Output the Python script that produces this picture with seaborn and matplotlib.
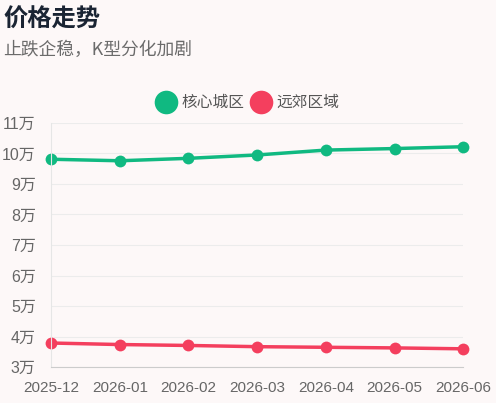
import matplotlib.pyplot as plt
import pandas as pd
import seaborn as sns
from matplotlib.lines import Line2D
from matplotlib.ticker import FuncFormatter

# Data (元)
months = ['2025-12', '2026-01', '2026-02', '2026-03', '2026-04', '2026-05', '2026-06']
core_city = [98100, 97600, 98400, 99500, 101100, 101600, 102200]
suburb = [37900, 37400, 37100, 36700, 36500, 36300, 36000]
series_names = ['核心城区', '远郊区域']
colors = ['#10b981', '#f43f5e']

df = pd.DataFrame({
    'month': months * 2,
    'price': core_city + suburb,
    'area': [series_names[0]] * len(months) + [series_names[1]] * len(months),
})

sns.set_style('white')
plt.rcParams['font.family'] = ['Liberation Sans', 'Noto Sans CJK SC']

bg = '#fdf8f8'
fig = plt.figure(figsize=(4.96, 4.03), dpi=100, facecolor=bg)
ax = fig.add_axes([0.103, 0.089, 0.831, 0.606])
ax.set_facecolor(bg)

sns.lineplot(data=df, x='month', y='price', hue='area', palette=colors,
             marker='o', markersize=8.5, markeredgewidth=0, linewidth=2.5,
             sort=False, legend=False, ax=ax)
for line in ax.lines:
    line.set_clip_on(False)

ax.set_ylim(30000, 110000)
ax.set_yticks(range(30000, 110001, 10000))
ax.yaxis.set_major_formatter(FuncFormatter(lambda v, p: f'{int(v / 10000)}万'))
ax.set_xlim(0, len(months) - 1)
ax.grid(axis='y', color='#ececec', linewidth=0.8)
ax.set_axisbelow(True)
for s in ['top', 'right']:
    ax.spines[s].set_visible(False)
ax.spines['left'].set_color('#e6e6e6')
ax.spines['bottom'].set_color('#cccccc')
ax.tick_params(axis='both', length=0, labelsize=11, colors='#666666')
ax.tick_params(axis='x', pad=10)
ax.tick_params(axis='y', pad=11, labelsize=11.5)
ax.set_xlabel('')
ax.set_ylabel('')

handles = [Line2D([], [], marker='o', linestyle='none', markersize=17,
                  markerfacecolor=c, markeredgewidth=0) for c in colors]
fig.legend(handles, series_names, loc='center', bbox_to_anchor=(0.5, 0.745),
           ncol=2, frameon=False, labelcolor='#555555',
           handletextpad=0.35, columnspacing=0.5, handlelength=1.2,
           prop={'family': ['Noto Sans CJK SC'], 'size': 11.3})

fig.text(0.006, 0.95, '价格走势', fontsize=17.5, fontweight='bold',
         color='#1a2433', va='center', ha='left', family=['Noto Sans CJK SC'])
fig.text(0.006, 0.876, '止跌企稳，K型分化加剧', fontsize=12.8,
         color='#6b6b6b', va='center', ha='left', family=['Noto Sans CJK SC'])

fig.savefig('out.png', dpi=100, facecolor=bg)
